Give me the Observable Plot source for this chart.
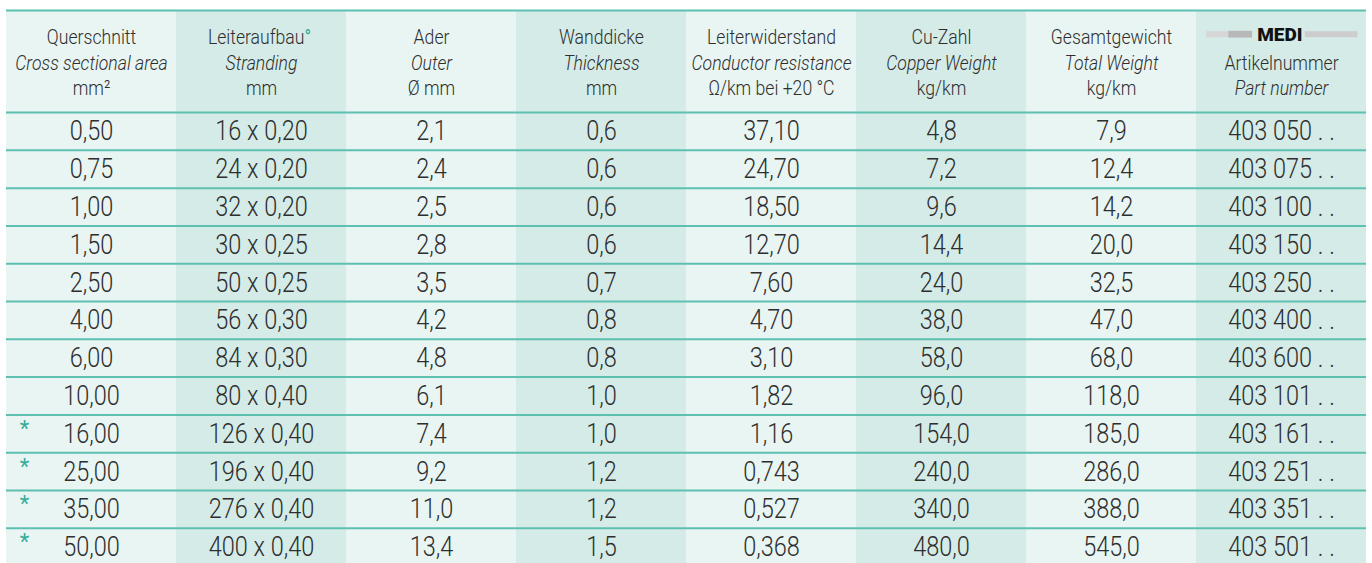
<!DOCTYPE html>
<html><head><meta charset="utf-8">
<script src="https://cdn.jsdelivr.net/npm/d3@7"></script>
<script src="https://cdn.jsdelivr.net/npm/@observablehq/plot@0.6"></script>
<style>
body{margin:0;background:#fff}
#chart svg{display:block}
</style>
</head><body><div id="chart"></div>
<script>
// ---- data ----
const querschnitt = ["0,50","0,75","1,00","1,50","2,50","4,00","6,00","10,00","16,00","25,00","35,00","50,00"];
const starred = [false,false,false,false,false,false,false,false,true,true,true,true];
const leiteraufbau = ["16 x 0,20","24 x 0,20","32 x 0,20","30 x 0,25","50 x 0,25","56 x 0,30","84 x 0,30","80 x 0,40","126 x 0,40","196 x 0,40","276 x 0,40","400 x 0,40"];
const ader = ["2,1","2,4","2,5","2,8","3,5","4,2","4,8","6,1","7,4","9,2","11,0","13,4"];
const wanddicke = ["0,6","0,6","0,6","0,6","0,7","0,8","0,8","1,0","1,0","1,2","1,2","1,5"];
const widerstand = ["37,10","24,70","18,50","12,70","7,60","4,70","3,10","1,82","1,16","0,743","0,527","0,368"];
const cuZahl = ["4,8","7,2","9,6","14,4","24,0","38,0","58,0","96,0","154,0","240,0","340,0","480,0"];
const gewicht = ["7,9","12,4","14,2","20,0","32,5","47,0","68,0","118,0","185,0","286,0","388,0","545,0"];
const artikel = ["403 050 . .","403 075 . .","403 100 . .","403 150 . .","403 250 . .","403 400 . .","403 600 . .","403 101 . .","403 161 . .","403 251 . .","403 351 . .","403 501 . ."];

const headerDe = ["Querschnitt","Leiteraufbau","Ader","Wanddicke","Leiterwiderstand","Cu-Zahl","Gesamtgewicht","Artikelnummer"];
const headerEn = ["Cross sectional area","Stranding","Outer","Thickness","Conductor resistance","Copper Weight","Total Weight","Part number"];
const headerUnit = ["mm²","mm","Ø mm","mm","Ω/km bei +20 °C","kg/km","kg/km",""];
const logoText = "MEDI";

// ---- build ----
const columns = [querschnitt, leiteraufbau, ader, wanddicke, widerstand, cuZahl, gewicht, artikel];
const nRows = querschnitt.length;
const HEAD = 2.7; // header height in row units
const cells = [];
columns.forEach((col, c) => col.forEach((v, r) => cells.push({c, r, v})));

const lineY = [-1.975, -1.287, -0.626];
const headUpright = [], headItalic = [];
headerDe.forEach((d, c) => {
  if (c < 7) {
    if (c !== 1) headUpright.push({c, y: lineY[0], t: d});
    headItalic.push({c, y: lineY[1], t: headerEn[c]});
    headUpright.push({c, y: lineY[2], t: headerUnit[c]});
  } else {
    headUpright.push({c, y: lineY[1], t: d});
    headItalic.push({c, y: lineY[2], t: headerEn[c]});
  }
});

const light = "#e8f5f3", dark = "#d5ebe7", teal = "#5dc0b0", accent = "#34ad9c", ink = "#2e2e2e";
const font = "Roboto,'Liberation Sans',sans-serif";
const colIdx = d3.range(8);
const rules = [-HEAD, ...d3.range(0, nRows)];
const stars = starred.map((s, r) => ({s, r})).filter(d => d.s);

const chart = Plot.plot({
  width: 1372, height: 563,
  marginTop: 0, marginRight: 0, marginBottom: 0, marginLeft: 0,
  x: {type: "linear", domain: [0, 8], range: [6, 1366], axis: null},
  y: {type: "linear", domain: [-HEAD, nRows], range: [10, 10 + 102 + nRows * 37.8], axis: null},
  color: {type: "identity"},
  style: {fontFamily: font, background: "#fff"},
  marks: [
    Plot.rect(colIdx, {x1: d => d, x2: d => d + 1, y1: -HEAD, y2: nRows + 0.5, fill: d => d % 2 ? dark : light}),
    Plot.ruleY(rules, {x1: 0, x2: 8, stroke: teal, strokeWidth: 2}),
    // header
    Plot.text(headUpright, {x: d => d.c + 0.5, y: "y", text: "t", fontSize: 20.5, fontWeight: 300, fill: ink}),
    Plot.text(headItalic, {x: d => d.c + 0.5, y: "y", text: "t", fontSize: 20.5, fontWeight: 300, fontStyle: "italic", fill: ink}),
    Plot.text([headerDe[1]], {x: 1.5, y: lineY[0], text: d => d, textAnchor: "end", dx: 43, fontSize: 20.5, fontWeight: 300, fill: ink}),
    Plot.text(["°"], {x: 1.5, y: lineY[0], text: d => d, textAnchor: "start", dx: 43, fontSize: 20.5, fill: accent}),
    // logo
    Plot.rect([0], {x1: 7.06, x2: 7.19, y1: -2.14, y2: -1.98, fill: "#d6d6d6"}),
    Plot.rect([0], {x1: 7.19, x2: 7.33, y1: -2.15, y2: -1.97, fill: "#b8b8b8"}),
    Plot.rect([0], {x1: 7.64, x2: 7.95, y1: -2.14, y2: -1.98, fill: "#cdcdcd"}),
    Plot.text([logoText], {x: 7.49, y: -2.06, text: d => d, fontSize: 19, fontWeight: 900, fill: "#111"}),
    // body
    Plot.text(cells, {x: d => d.c + 0.5, y: d => d.r + 0.5, text: "v", fontSize: 28, fontWeight: 300, fill: ink}),
    Plot.text(stars, {x: 0.106, y: d => d.r + 0.5, text: () => "*", fontSize: 22, dy: -5, fill: accent})
  ]
});
// emulate a condensed typeface: squeeze each text horizontally around its own anchor
chart.querySelectorAll("text").forEach(t => {
  const tr = t.getAttribute("transform");
  const g = t.closest("g[font-size]");
  const fs = g ? +g.getAttribute("font-size") : 0;
  const k = fs === 28 ? 0.84 : fs === 20.5 ? 0.86 : 1;
  if (tr && k !== 1) t.setAttribute("transform", tr + ` scale(${k},1)`);
});
document.getElementById("chart").appendChild(chart);
</script>
</body></html>
